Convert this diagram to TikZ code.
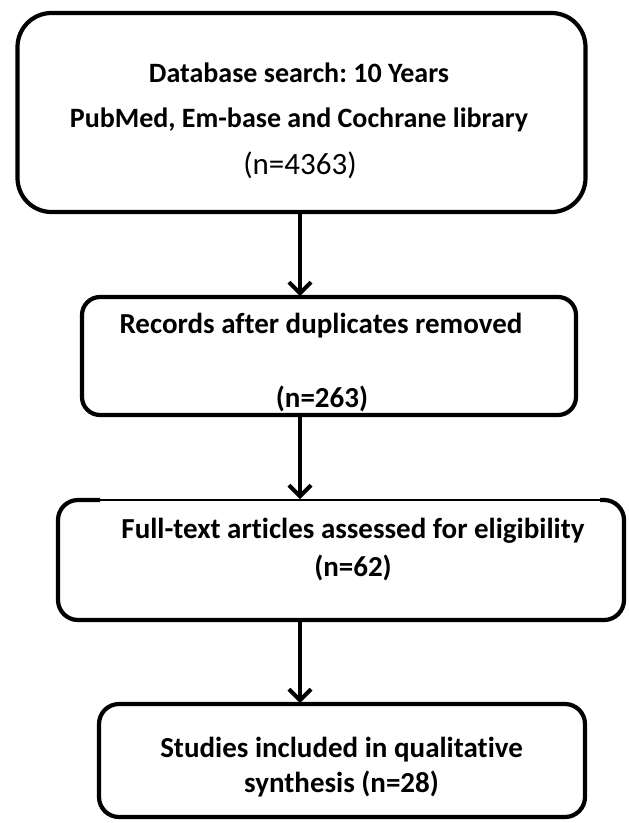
\documentclass[tikz,border=0pt]{standalone}
\usepackage{fontspec}
\setmainfont{Carlito}[Ligatures={NoCommon}]
\usetikzlibrary{arrows.meta,calc}
\frenchspacing
\tikzset{
  box/.style={draw=black, line width=4.2pt, rectangle, outer sep=0pt, inner sep=0pt, fill=white},
  lbl/.style={anchor=base, inner sep=0pt, font=\fontsize{29}{35}\selectfont\bfseries},
  lblsmall/.style={anchor=base, inner sep=0pt, font=\fontsize{28}{34}\selectfont\bfseries},
  lblreg/.style={anchor=base, inner sep=0pt, font=\fontsize{31}{37}\selectfont},
  arr/.style={line width=4pt, -{Straight Barb[length=11pt,width=22pt,line width=4pt]}, shorten >=1pt}
}
\begin{document}
\begin{tikzpicture}[x=1pt,y=-1pt]
\useasboundingbox[fill=white] (0,0) rectangle (629,823);
% boxes
\node[box, rounded corners=34pt, minimum width=568pt, minimum height=199pt] (b1) at (301.5,112.5) {};
\node[box, rounded corners=18pt, minimum width=494pt, minimum height=118pt] (b2) at (329,356) {};
\node[box, line width=1.6pt, rounded corners=20pt, minimum width=566pt, minimum height=120pt] (b3) at (341,560) {};
\draw[line width=4.2pt, rounded corners=20pt] ($(b3.north west)+(42,0)$) -- (b3.north west) -- (b3.south west) -- (b3.south east) -- (b3.north east) -- ($(b3.north east)+(-24,0)$);
\node[box, rounded corners=20pt, minimum width=486pt, minimum height=113pt] (b4) at (342,760.5) {};
% texts
\node[lblsmall] (t1a) at (299,82) {Database search: 10 Years};
\node[lblsmall] (t1b) at (299,127) {PubMed, Em-base and Cochrane library};
\node[lblreg] (t1c) at (300,174) {(n=4363)};
\node[lbl] (t2a) at (321,333) {Records after duplicates removed};
\node[lbl] (t2b) at (322,407) {(n=263)};
\node[lbl] (t3a) at (353,538) {Full-text articles assessed for eligibility};
\node[lbl] (t3b) at (353,576) {(n=62)};
\node[lbl] (t4a) at (341.5,757) {Studies included in qualitative};
\node[lbl] (t4b) at (341.5,792) {synthesis (n=28)};
% connectors
\coordinate (ax) at (300,0);
\draw[arr] (b1.south -| ax) -- (b2.north -| ax);
\draw[arr] (b2.south -| ax) -- (b3.north -| ax);
\draw[arr] (b3.south -| ax) -- (b4.north -| ax);
\end{tikzpicture}
\end{document}
